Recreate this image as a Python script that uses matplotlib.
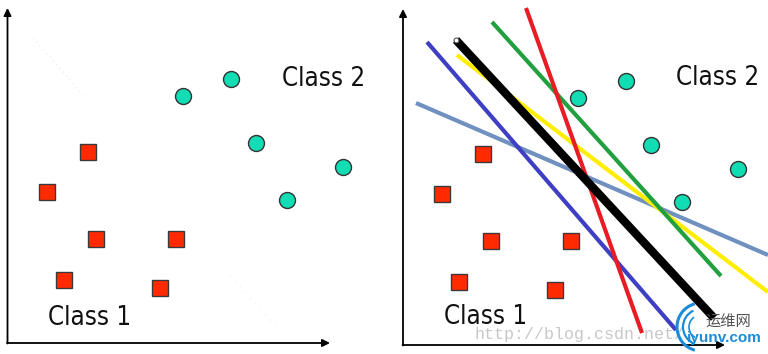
import matplotlib
matplotlib.use("Agg")
import matplotlib.pyplot as plt
from matplotlib.patches import Arc

# ---- data (units measured from each panel's axis origin) ----
class1_x = [80, 39, 88, 168, 56, 152]
class1_y = [191, 151, 104, 104, 63, 55]
class2_x = [175, 223, 248, 335, 279]
class2_y = [247, 264, 200, 176, 143]

# candidate separating lines (x0, x1), (y0, y1)
line_names = ["steel", "blue", "yellow", "green", "red", "black"]
line_x = [[13, 365], [24, 273], [54, 365], [89, 318], [123, 239], [53, 311]]
line_y = [[242, 90], [303, 15], [290, 53], [323, 69], [337, 12], [305, 27]]
line_colors = ["#7090c0", "#3f3fc4", "#ffee00", "#22a040", "#e81c24", "#000000"]
line_widths = [3.0, 3.0, 3.0, 3.0, 3.0, 6.0]

label1 = "Class 1"
label2 = "Class 2"

fig = plt.figure(figsize=(7.68, 3.54), dpi=100)
fig.patch.set_facecolor("white")

axL = fig.add_axes([0, 0, 0.5, 1])
axL.set_xlim(-7.5, 376.5)
axL.set_ylim(-11, 343)
axR = fig.add_axes([0.5, 0, 0.5, 1])
axR.set_xlim(-19, 365)
axR.set_ylim(-9, 345)

font = dict(family="DejaVu Sans", stretch="condensed", fontsize=18.5, color="#111111")

def draw_panel(ax, xtip, ytip, c2pos, c1pos):
    ax.axis("off")
    ap = dict(arrowstyle="-|>", color="black", lw=1.3, mutation_scale=11,
              shrinkA=0, shrinkB=0)
    ax.annotate("", xy=(xtip, 0), xytext=(-0.5, 0), arrowprops=ap)
    ax.annotate("", xy=(0, ytip), xytext=(0, -0.5), arrowprops=ap)
    ax.plot(class1_x, class1_y, linestyle="none", marker="s", markersize=12,
            markerfacecolor="#ff2a00", markeredgecolor="#3a3a3a",
            markeredgewidth=1.0, zorder=5)
    ax.plot(class2_x, class2_y, linestyle="none", marker="o", markersize=11.5,
            markerfacecolor="#12dcb4", markeredgecolor="#333333",
            markeredgewidth=1.0, zorder=5)
    ax.text(c2pos[0], c2pos[1], label2, ha="left", va="baseline", **font)
    ax.text(c1pos[0], c1pos[1], label1, ha="left", va="baseline", **font)

draw_panel(axL, 322.5, 335, (274, 257), (41, 18))
draw_panel(axR, 322, 336, (273, 260), (41, 21))

# faint dotted traces in left panel
axL.plot([25.5, 75.5], [305, 248], linestyle=(0, (1, 3)), color="#d8d8f4",
         lw=0.9, alpha=0.5)
axL.plot([222.5, 269.5], [68, 15], linestyle=(0, (1, 5)), color="#dcdcf4",
         lw=0.9, alpha=0.4)

# candidate lines in right panel
for xs, ys, c, w in zip(line_x, line_y, line_colors, line_widths):
    axR.plot(xs, ys, color=c, lw=w, solid_capstyle="butt", zorder=3,
             clip_on=False)
axR.plot([line_x[-1][0]], [line_y[-1][0]], marker="o", markersize=3.5,
         markerfacecolor="white", markeredgecolor="#555555", markeredgewidth=0.8,
         zorder=4)

# watermark
axR.text(72, 10.5, "http://blog.csdn.net/", family="Liberation Mono",
         fontsize=12, color="#c8c8c8", ha="left", va="center", zorder=6)
for r, t1, t2, lw in [(24, 105, 255, 2.2), (18, 115, 245, 1.6), (12, 125, 240, 1.2)]:
    axR.add_patch(Arc((298, 18), 2 * r, 2 * r, theta1=t1, theta2=t2,
                      color="#1a8cd8", lw=lw, zorder=7))
axR.text(302, 23, "运维网", family=["Noto Sans CJK SC", "DejaVu Sans"],
         fontsize=11, color="#555555", ha="left", va="center", zorder=7)
axR.text(284, 7, "iyunv.com", family="Liberation Sans", fontsize=11,
         fontweight="bold", color="#1a8cd8", ha="left", va="center", zorder=7)

fig.savefig("out.png", dpi=100, facecolor="white")
